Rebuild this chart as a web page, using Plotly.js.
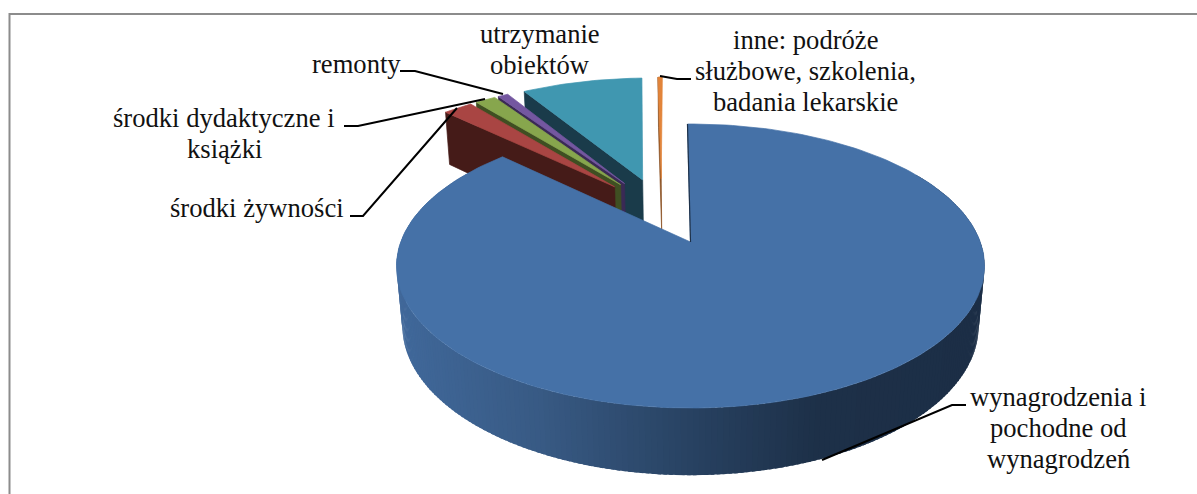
<!DOCTYPE html>
<html><head><meta charset="utf-8">
<script src="https://cdn.plot.ly/plotly-3.0.1.min.js"></script>
<style>html,body{margin:0;padding:0;background:#fff}#c{width:1197px;height:494px}</style>
</head><body><div id="c"></div>
<script>
const categories = ["wynagrodzenia i pochodne od wynagrodzeń","środki żywności","środki dydaktyczne i książki","remonty","utrzymanie obiektów","inne: podróże służbowe, szkolenia, badania lekarskie"];
const shares = [87.3, 2.0, 1.4, 0.7, 8.3, 0.3];
const topColors = ["#4571a7","#a94543","#87a64d","#7457a0","#4097b0","#e2843a"];
const wallColors = ["#1d3048","#451b18","#3f4f22","#3a2a55","#1a3b4a","#8a4f20"];
const drawOrder = [5,4,3,2,1];
const labels = [
 {lines:["wynagrodzenia i","pochodne od","wynagrodzeń"],x:1058,y:397},
 {lines:["środki żywności"],x:257,y:208},
 {lines:["środki dydaktyczne i","książki"],x:224,y:118},
 {lines:["remonty"],x:356,y:64},
 {lines:["utrzymanie","obiektów"],x:540,y:34},
 {lines:["inne: podróże","służbowe, szkolenia,","badania lekarskie"],x:805,y:40}
];
const lineStep = 31;
const leaders = [
 "M966,405 L952,405 L822,460",
 "M350,216 L363,216 L457,108",
 "M344,126 L358,126 L485,99",
 "M400,71 L415,71 L503,94",
 "M691,79 L677,79 L660,76"
];
// view of the tilted disc
const view = {cx:690.5,cy:266,A:289.8,B:142,C:24,D:60,k:0.169,m:0.02,explode:0.26,start:-0.7};
function project(u,v,z){
  const w=1+view.k*v+view.m*z;
  return [view.cx+view.A*u/w, view.cy-(view.B*v+view.C-view.D*z)/w];
}
const rad=d=>d*Math.PI/180;
const total=shares.reduce((a,b)=>a+b,0);
let acc=view.start;
const slices=shares.map((s,i)=>{const a0=acc,a1=acc+s/total*360;acc=a1;return {i,a0,a1,mid:(a0+a1)/2};});
const mm=slices[0].mid;
const c0=[-view.explode*Math.sin(rad(mm)),-view.explode*Math.cos(rad(mm))];
slices.forEach(s=>{s.ou=c0[0]+view.explode*Math.sin(rad(s.mid));s.ov=c0[1]+view.explode*Math.cos(rad(s.mid));});
const traces=[];
function poly(pts,color,w){
  traces.push({type:"scatter",mode:"lines",x:pts.map(p=>p[0]),y:pts.map(p=>p[1]),fill:"toself",fillcolor:color,
    line:{color:color,width:w===undefined?0.7:w},hoverinfo:"skip",showlegend:false});
}
function topFace(s){
  const pts=[project(s.ou,s.ov,0)];
  const n=Math.max(4,Math.ceil((s.a1-s.a0)/1.5));
  for(let j=0;j<=n;j++){const a=rad(s.a0+(s.a1-s.a0)*j/n);pts.push(project(s.ou+Math.sin(a),s.ov+Math.cos(a),0));}
  pts.push(pts[0]);return pts;
}
function leftWall(s){
  const a=rad(s.a0),ou=s.ou+Math.sin(a),ov=s.ov+Math.cos(a);
  const p=[project(s.ou,s.ov,0),project(ou,ov,0),project(ou,ov,1),project(s.ou,s.ov,1)];
  p.push(p[0]);return p;
}
drawOrder.forEach(i=>{const s=slices[i];poly(leftWall(s),wallColors[i]);poly(topFace(s),topColors[i]);});
// main slice: shaded outer wall
const stops=[[397,[64,104,154]],[540,[56,90,132]],[691,[40,66,98]],[820,[29,48,72]],[985,[28,46,70]]];
function shade(x){
  for(let j=1;j<stops.length;j++){ if(x<=stops[j][0]){
    const t=(x-stops[j-1][0])/(stops[j][0]-stops[j-1][0]);
    const c=stops[j-1][1].map((v,q)=>Math.round(v+(stops[j][1][q]-v)*Math.max(0,t)));
    return `rgb(${c.join(",")})`;}}
  const l=stops[stops.length-1][1];return `rgb(${l.join(",")})`;
}
const m0=slices[0];
const stepDeg=1;
for(let d=m0.a1-10;d>m0.a0+60;d-=stepDeg){
  const a=rad(d),b=rad(d-stepDeg*1.6);
  const ua=m0.ou+Math.sin(a),va=m0.ov+Math.cos(a),ub=m0.ou+Math.sin(b),vb=m0.ov+Math.cos(b);
  const p=[project(ua,va,0),project(ub,vb,0),project(ub,vb,1),project(ua,va,1)];
  p.push(p[0]);
  poly(p,shade((p[0][0]+p[1][0])/2),0);
}
poly(topFace(m0),topColors[0]);
const ap=project(m0.ou,m0.ov,0), tp=project(m0.ou+Math.sin(rad(m0.a0)),m0.ov+Math.cos(rad(m0.a0)),0);
traces.push({type:"scatter",mode:"lines",x:[tp[0],ap[0]],y:[tp[1],ap[1]],line:{color:"#1d3048",width:1.2},hoverinfo:"skip",showlegend:false});
const annos=[];
labels.forEach(l=>l.lines.forEach((t,i)=>annos.push({x:l.x,y:l.y+i*lineStep,xref:"x",yref:"y",text:t,showarrow:false,align:"center",xanchor:"center",yanchor:"middle",
    font:{family:"Liberation Serif",size:26.6,color:"#111"}})));
const layout={
  width:1197,height:494,margin:{l:0,r:0,t:0,b:0},paper_bgcolor:"#fff",plot_bgcolor:"#fff",showlegend:false,
  xaxis:{range:[0,1197],visible:false,fixedrange:true},
  yaxis:{range:[494,0],visible:false,fixedrange:true},
  shapes:[
    {type:"path",path:"M9.5,500 L9.5,14 L1200,14",line:{color:"#8c8c8c",width:2},layer:"below"},
    ...leaders.map(p=>({type:"path",path:p,line:{color:"#000",width:2}}))
  ],
  annotations:annos
};
Plotly.newPlot("c",traces,layout,{displayModeBar:false,staticPlot:true});
</script></body></html>
